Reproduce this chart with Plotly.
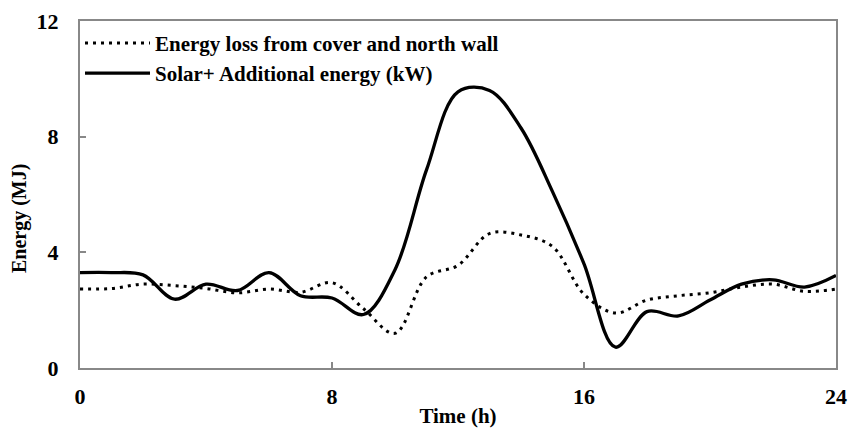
import plotly.graph_objects as go

hours = list(range(0, 25))
energy_loss = [2.73, 2.75, 2.9, 2.85, 2.75, 2.6, 2.73, 2.62, 2.95, 2.05, 1.2, 3.15, 3.55,
               4.65, 4.6, 4.2, 2.55, 1.9, 2.35, 2.5, 2.6, 2.8, 2.9, 2.65, 2.73]
solar_additional = [3.3, 3.3, 3.22, 2.38, 2.9, 2.68, 3.3, 2.5, 2.42, 1.85, 3.4, 6.85, 9.55,
                    9.6, 8.3, 6.1, 3.6, 0.72, 1.95, 1.8, 2.35, 2.9, 3.05, 2.8, 3.2]
series_names = ["Energy loss from cover and north wall", "Solar+ Additional energy (kW)"]
x_ticks = [0, 8, 16, 24]
y_ticks = [0, 4, 8, 12]

FONT = "Liberation Serif"
AX = "#888888"

fig = go.Figure()
fig.add_trace(go.Scatter(x=hours, y=energy_loss, name=series_names[0], mode="lines",
                         line=dict(color="black", width=3, dash="3px,5px", shape="spline", smoothing=1)))
fig.add_trace(go.Scatter(x=hours, y=solar_additional, name=series_names[1], mode="lines",
                         line=dict(color="black", width=3.3, shape="spline", smoothing=1)))

fig.update_layout(
    width=849, height=428,
    margin=dict(l=80, r=13, t=21, b=60, autoexpand=False),
    plot_bgcolor="white", paper_bgcolor="white",
    font=dict(family=FONT, size=20, color="black"),
    showlegend=True,
    legend=dict(x=0.0, y=0.995, xanchor="left", yanchor="top", bgcolor="rgba(0,0,0,0)",
                font=dict(family=FONT, size=21, color="black", weight="bold"),
                itemwidth=65, tracegroupgap=0),
    xaxis=dict(range=[0, 24], tickvals=x_ticks, ticktext=[str(v) for v in x_ticks],
               showgrid=False, zeroline=False, showline=True, linecolor=AX, linewidth=2,
               mirror=True, ticks="inside", ticklen=6, tickcolor=AX, tickwidth=1.5,
               automargin=False,
               tickfont=dict(family=FONT, size=22, weight="bold"), ticklabelstandoff=8,
               title=dict(text="Time (h)", font=dict(family=FONT, size=21, weight="bold"), standoff=0)),
    yaxis=dict(range=[0, 12], tickvals=y_ticks, ticktext=[str(v) for v in y_ticks],
               showgrid=False, zeroline=False, showline=True, linecolor=AX, linewidth=2,
               mirror=True, ticks="inside", ticklen=6, tickcolor=AX, tickwidth=1.5,
               automargin=False,
               tickfont=dict(family=FONT, size=22, weight="bold"), ticklabelstandoff=15),
    annotations=[dict(text="Energy (MJ)", xref="paper", yref="paper", x=-0.079, y=0.43,
                      xanchor="center", yanchor="middle", textangle=-90, showarrow=False,
                      font=dict(family=FONT, size=20, weight="bold", color="black"))],
)

fig.write_html("out.html", config={"displayModeBar": False},
               post_script="document.body.style.margin='0';document.body.style.overflow='hidden';")
